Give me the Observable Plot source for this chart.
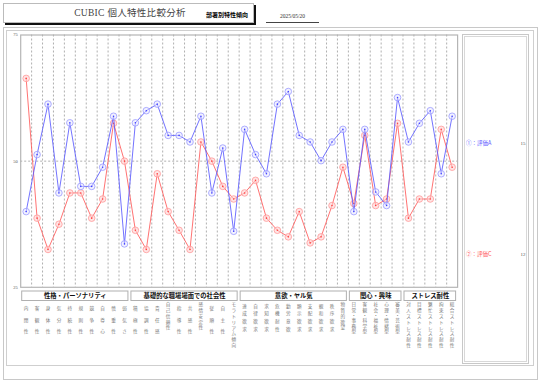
<!DOCTYPE html>
<html><head><meta charset="utf-8">
<script src="https://cdn.jsdelivr.net/npm/d3@7"></script>
<script src="https://cdn.jsdelivr.net/npm/@observablehq/plot@0.6"></script>
<style>
body{margin:0;background:#fff;font-family:"Noto Sans CJK JP","Noto Sans",sans-serif;}
#wrap{position:relative;width:540px;height:382px;overflow:hidden;}
#wrap svg{position:absolute;left:0;top:0;}
.abs{position:absolute;box-sizing:border-box;}
</style></head>
<body><div id="wrap">
<div class="abs" style="left:3px;top:27px;width:535px;height:353px;border:1.5px solid #c8c8c8;"></div>
<div class="abs" style="left:6px;top:30px;width:528px;height:336px;border:1px solid #cfcfcf;"></div>
<div class="abs" style="left:462px;top:34px;width:67px;height:330px;border:1px solid #c8c8c8;"></div>
<div class="abs" style="left:464px;top:36px;width:63px;height:326px;border:1px solid #d8d8d8;"></div>
<div class="abs" style="left:3px;top:3px;width:251px;height:20px;border:1px solid #bbb;box-shadow:2px 2px 0 #111;"></div>
<div class="abs" id="title" style="left:60px;top:7px;width:140px;text-align:center;font-family:'Liberation Serif','Noto Sans CJK JP',serif;font-size:9.5px;color:#444;line-height:12px;white-space:nowrap;letter-spacing:0.3px;"></div>
<div class="abs" id="subtitle" style="left:206px;top:11px;font-size:6px;font-weight:bold;color:#000;line-height:7px;white-space:nowrap;"></div>
<div class="abs" id="date" style="left:266px;top:13px;width:53px;text-align:center;font-family:'Liberation Serif',serif;font-size:5.5px;color:#333;line-height:7px;border-bottom:1.5px solid #444;padding-bottom:2px;"></div>
<div class="abs" id="legA" style="left:466px;top:140px;font-size:5.5px;color:#6060ff;line-height:7px;white-space:nowrap;"></div>
<div class="abs" id="legAn" style="left:516px;top:140px;width:14px;text-align:center;font-family:'Liberation Serif',serif;font-size:5px;color:#555;line-height:7px;"></div>
<div class="abs" id="legC" style="left:466px;top:251px;font-size:5.5px;color:#ff6060;line-height:7px;white-space:nowrap;"></div>
<div class="abs" id="legCn" style="left:516px;top:251px;width:14px;text-align:center;font-family:'Liberation Serif',serif;font-size:5px;color:#555;line-height:7px;"></div>
</div>
<script>
const titleText = "CUBIC 個人特性比較分析";
const subtitleText = "部署別特性傾向";
const dateText = "2025/05/20";
const seriesNames = ["①：評価A", "②：評価C"];
const seriesCounts = ["15", "12"];
const yTicks = [25, 50, 75];

const traits = ["内閉性","客観性","身体性","気分性","持続性","規則性","競争性","自尊心","慎重性","弱気さ",
  "積極性","協調性","責任感","自己信頼性","指導性","共感性","感情安定性","従順性","自主性","モラトリアム傾向",
  "達成欲求","自律欲求","求知欲求","危機耐性","勤労意欲","顕示欲求","支配欲求","親和欲求","秩序欲求","物質的欲望",
  "日常・事務型","客観・科学型","社会・福祉型","心理・情緒型","審美・芸術型",
  "対人ストレス耐性","目標ストレス耐性","繁忙ストレス耐性","拘束ストレス耐性","総合ストレス耐性"];

const groupNames = ["性格・パーソナリティ","基礎的な職場場面での社会性","意欲・ヤル気","関心・興味","ストレス耐性"];
const groupSizes = [10, 10, 10, 5, 5];

const valuesA = [40.0, 51.3, 61.3, 43.7, 57.6, 45.0, 45.0, 48.8, 58.9, 33.6,
  57.6, 60.0, 61.3, 55.1, 55.1, 53.8, 58.9, 43.7, 52.6, 36.1,
  56.3, 51.3, 47.5, 61.3, 63.8, 55.1, 53.8, 50.1, 53.8, 56.3,
  40.0, 56.3, 43.9, 41.2, 62.6, 53.8, 57.5, 60.0, 47.5, 58.9];
const valuesC = [66.4, 38.7, 32.5, 37.5, 43.7, 43.7, 38.7, 42.5, 57.5, 50.0,
  36.3, 32.5, 47.5, 40.0, 36.3, 32.5, 53.8, 50.0, 45.0, 42.5,
  43.7, 46.2, 38.7, 36.3, 35.0, 40.0, 33.8, 35.0, 41.2, 48.8,
  41.6, 55.1, 41.2, 42.5, 57.5, 38.7, 42.5, 42.5, 56.3, 48.8];

document.getElementById("title").textContent = titleText;
document.getElementById("subtitle").textContent = subtitleText;
document.getElementById("date").textContent = dateText;
document.getElementById("legA").textContent = seriesNames[0];
document.getElementById("legAn").textContent = seriesCounts[0];
document.getElementById("legC").textContent = seriesNames[1];
document.getElementById("legCn").textContent = seriesCounts[1];

const W = 540, H = 382;
const mL = 20.2, mR = 82.9, mT = 34.5, mB = 95.2;
const yMin = 25, yMax = 75;
const plotH = H - mT - mB;
const py = p => yMax - (p - mT) / plotH * (yMax - yMin);  // pixel -> y value (for below-frame decorations)

const dataA = valuesA.map((v, i) => ({i, v}));
const dataC = valuesC.map((v, i) => ({i, v}));

let start = 0;
const groups = groupNames.map((name, k) => {
  const g = {name, start, end: start + groupSizes[k] - 1};
  start += groupSizes[k];
  return g;
});

const labelData = traits.map((t, i) => ({i, chars: Array.from(t)}));
const lens = Array.from(new Set(labelData.map(d => d.chars.length)));
const fs = 4.6;
const labelMarks = lens.map(n => {
  const s = n <= 5 ? 23 / (n - 1) : (n === 6 ? 5.4 : 5.8);
  return Plot.text(labelData.filter(d => d.chars.length === n), {
    x: "i", frameAnchor: "bottom", text: d => d.chars.join("\n"),
    lineHeight: s / fs, lineAnchor: "top", dy: 15, fontSize: fs, fill: "#777",
    fontFamily: "Noto Sans CJK JP"
  });
});

const chart = Plot.plot({
  width: W, height: H,
  marginLeft: mL, marginRight: mR, marginTop: mT, marginBottom: mB,
  x: {type: "linear", domain: [-0.5, traits.length - 0.5], axis: null},
  y: {domain: [yMin, yMax], axis: null},
  style: {background: "transparent", fontFamily: "Noto Sans CJK JP"},
  marks: [
    Plot.ruleX(d3.range(traits.length - 1), {x: d => d + 0.5, stroke: "#9a9a9a", strokeDasharray: "2,2", strokeWidth: 0.8}),
    Plot.ruleY([50], {stroke: "#9a9a9a", strokeDasharray: "2,2", strokeWidth: 0.8}),
    Plot.frame({stroke: "#b5b5b5", strokeWidth: 1.2}),
    Plot.axisY(yTicks, {tickSize: 0, tickPadding: 3, fontSize: 4.5, fill: "#555", label: null, fontFamily: "Liberation Serif"}),
    Plot.line(dataC, {x: "i", y: "v", stroke: "#ff5a5a", strokeWidth: 1, strokeOpacity: 0.85}),
    Plot.dot(dataC, {x: "i", y: "v", r: 3.3, stroke: "#ff9a9a", strokeWidth: 0.8, fill: "#ffd2d2", fillOpacity: 0.6}),
    Plot.dot(dataC, {x: "i", y: "v", r: 0.8, fill: "#ff4040"}),
    Plot.line(dataA, {x: "i", y: "v", stroke: "#5a5aff", strokeWidth: 1, strokeOpacity: 0.85}),
    Plot.dot(dataA, {x: "i", y: "v", r: 3.3, stroke: "#9a9aff", strokeWidth: 0.8, fill: "#e6e6ff", fillOpacity: 0.5}),
    Plot.dot(dataA, {x: "i", y: "v", r: 0.8, fill: "#4040ff"}),
    Plot.rect(groups, {x1: d => d.start - 0.5, x2: d => d.end + 0.5, y1: py(291), y2: py(300.5),
      insetLeft: 1.5, insetRight: 1.5, stroke: "#b0b0b0", strokeWidth: 1, fill: "white"}),
    Plot.text(groups, {x: d => (d.start + d.end) / 2, y: py(295.8), text: "name", fontSize: 6.3,
      fontWeight: "bold", fill: "#111", fontFamily: "Noto Sans CJK JP"}),
    ...labelMarks
  ]
});
document.getElementById("wrap").appendChild(chart);
</script>
</body></html>
